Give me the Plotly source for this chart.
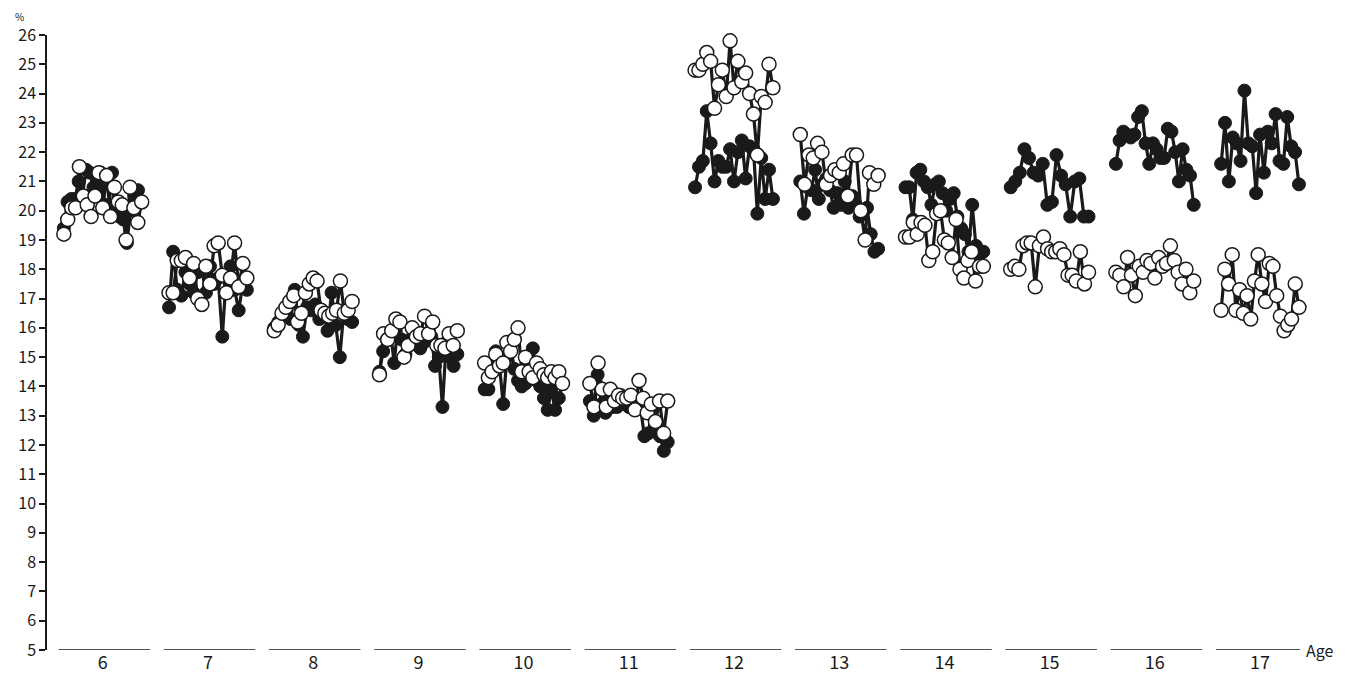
import numpy as np
import plotly.graph_objects as go

ages = [6, 7, 8, 9, 10, 11, 12, 13, 14, 15, 16, 17]
y_ticks = list(range(5, 27))

# filled (black) series per age group
black = {
    6: [19.4, 20.3, 20.4, 20.4, 21.0, 20.5, 21.4, 21.3, 20.8, 21.0, 21.3, 20.2, 20.0, 21.3, 20.0, 19.8, 19.7, 18.9, 20.0, 20.5, 20.7, 20.3],
    7: [16.7, 18.6, 17.3, 17.1, 17.9, 17.5, 17.2, 17.9, 18.0, 17.2, 18.1, 17.5, 17.7, 15.7, 17.8, 18.1, 17.3, 16.6, 17.5, 17.3],
    8: [16.0, 16.2, 16.5, 16.6, 16.3, 17.3, 16.1, 15.7, 16.7, 16.6, 16.8, 16.3, 16.5, 15.9, 17.2, 16.1, 15.0, 16.6, 16.3, 16.2],
    9: [14.5, 15.2, 15.6, 15.8, 14.8, 16.2, 15.6, 15.1, 15.5, 15.7, 15.6, 15.3, 15.5, 15.8, 15.7, 14.7, 15.0, 13.3, 15.5, 15.0, 14.7, 15.1],
    10: [13.9, 13.9, 14.6, 15.2, 14.7, 13.4, 15.0, 15.4, 14.6, 14.2, 14.0, 14.1, 14.6, 15.3, 14.2, 14.0, 13.6, 13.2, 13.9, 13.2, 13.6, 14.1],
    11: [13.5, 13.0, 14.4, 13.4, 13.1, 13.6, 13.3, 13.3, 13.7, 13.6, 13.3, 13.6, 13.4, 13.3, 12.3, 12.4, 13.2, 12.6, 12.3, 11.8, 12.1],
    12: [20.8, 21.5, 21.7, 23.4, 22.3, 21.0, 21.7, 21.5, 21.5, 22.1, 21.0, 22.0, 22.4, 21.1, 22.2, 22.1, 19.9, 21.8, 20.4, 21.4, 20.4],
    13: [21.0, 19.9, 20.8, 20.7, 21.4, 20.4, 20.9, 21.1, 20.7, 20.1, 20.6, 20.2, 21.0, 20.1, 20.5, 20.2, 19.8, 20.0, 20.1, 19.2, 18.6, 18.7],
    14: [20.8, 20.8, 19.7, 21.3, 21.4, 21.0, 20.8, 20.2, 20.9, 21.0, 20.6, 20.0, 20.4, 20.6, 19.8, 19.4, 19.2, 18.6, 20.2, 18.8, 18.5, 18.6],
    15: [20.8, 21.0, 21.3, 22.1, 21.8, 21.3, 21.2, 21.6, 20.2, 20.3, 21.9, 21.2, 20.9, 19.8, 21.0, 21.1, 19.8, 19.8],
    16: [21.6, 22.4, 22.7, 22.6, 22.5, 22.6, 23.2, 23.4, 22.3, 21.6, 22.3, 22.1, 21.8, 21.8, 22.8, 22.7, 22.0, 21.0, 22.1, 21.4, 21.2, 20.2],
    17: [21.6, 23.0, 21.0, 22.5, 22.3, 21.7, 24.1, 22.3, 22.2, 20.6, 22.6, 21.3, 22.7, 22.3, 23.3, 21.7, 21.6, 23.2, 22.2, 22.0, 20.9],
}

# open (white) series per age group
white = {
    6: [19.2, 19.7, 20.1, 20.1, 21.5, 20.5, 20.2, 19.8, 20.5, 21.3, 20.1, 21.2, 19.8, 20.8, 20.3, 20.2, 19.0, 20.8, 20.1, 19.6, 20.3],
    7: [17.2, 17.2, 18.3, 18.3, 18.4, 17.7, 18.2, 17.0, 16.8, 18.1, 17.5, 18.8, 18.9, 17.8, 17.2, 17.7, 18.9, 17.4, 18.2, 17.7],
    8: [15.9, 16.1, 16.5, 16.7, 16.9, 17.1, 16.2, 16.5, 17.2, 17.5, 17.7, 17.6, 16.6, 16.5, 16.4, 16.5, 16.6, 17.6, 16.5, 16.6, 16.9],
    9: [14.4, 15.8, 15.6, 15.9, 16.3, 16.2, 15.0, 15.4, 16.0, 15.7, 15.8, 16.4, 15.8, 16.2, 15.4, 15.4, 15.3, 15.8, 15.4, 15.9],
    10: [14.8, 14.3, 14.5, 15.1, 14.7, 14.8, 15.5, 15.2, 15.6, 16.0, 14.5, 15.0, 14.5, 14.3, 14.8, 14.6, 14.4, 14.3, 14.5, 14.3, 14.5, 14.1],
    11: [14.1, 13.3, 14.8, 13.9, 13.3, 13.9, 13.5, 13.7, 13.6, 13.6, 13.7, 13.2, 14.2, 13.6, 13.1, 13.4, 12.8, 13.5, 12.4, 13.5],
    12: [24.8, 24.8, 25.0, 25.4, 25.1, 23.5, 24.3, 24.8, 23.9, 25.8, 24.2, 25.1, 24.4, 24.7, 24.0, 23.3, 21.9, 23.9, 23.7, 25.0, 24.2],
    13: [22.6, 20.9, 21.9, 21.8, 22.3, 22.0, 20.9, 21.2, 21.4, 21.3, 21.6, 20.5, 21.9, 21.9, 20.0, 19.0, 21.3, 20.9, 21.2],
    14: [19.1, 19.1, 19.6, 19.2, 19.6, 19.5, 18.3, 18.6, 19.9, 20.0, 19.0, 18.9, 18.4, 19.7, 18.0, 17.7, 18.3, 18.6, 17.6, 18.1, 18.1],
    15: [18.0, 18.1, 18.0, 18.8, 18.9, 18.9, 17.4, 18.8, 19.1, 18.7, 18.6, 18.6, 18.7, 18.5, 17.8, 17.8, 17.6, 18.6, 17.5, 17.9],
    16: [17.9, 17.8, 17.4, 18.4, 17.8, 17.1, 18.1, 17.9, 18.3, 18.2, 17.7, 18.4, 18.1, 18.2, 18.8, 18.3, 17.9, 17.5, 18.0, 17.2, 17.6],
    17: [16.6, 18.0, 17.5, 18.5, 16.6, 17.3, 16.5, 17.1, 16.3, 17.6, 18.5, 17.5, 16.9, 18.2, 18.1, 17.1, 16.4, 15.9, 16.1, 16.3, 17.5, 16.7],
}

HALF = 0.37


def build(series):
    xs, ys = [], []
    for a in ages:
        vals = series[a]
        pos = np.linspace(a - HALF, a + HALF, len(vals))
        xs.extend(pos.tolist())
        ys.extend(vals)
        xs.append(None)
        ys.append(None)
    return xs, ys


fig = go.Figure()
bx, by = build(black)
fig.add_trace(go.Scatter(
    x=bx, y=by, mode="lines+markers", connectgaps=False, cliponaxis=False,
    line=dict(color="#1a1a1a", width=3.2),
    marker=dict(size=13, color="#1a1a1a", line=dict(color="#1a1a1a", width=1)),
    showlegend=False, hoverinfo="skip"))
wx, wy = build(white)
fig.add_trace(go.Scatter(
    x=wx, y=wy, mode="lines+markers", connectgaps=False, cliponaxis=False,
    line=dict(color="#1a1a1a", width=3.2),
    marker=dict(size=14, color="white", line=dict(color="#1a1a1a", width=1.5)),
    showlegend=False, hoverinfo="skip"))

X0 = 5.47
X1 = 17.38

# axis segments beneath each age group
for a in ages:
    left = max(a - 0.42, X0)
    fig.add_shape(type="line", xref="x", yref="y", x0=left, x1=a + 0.45,
                  y0=5, y1=5, line=dict(color="#1a1a1a", width=1.5))

fig.add_annotation(xref="paper", yref="y", x=1.0, y=5, xanchor="left", yanchor="middle",
                   text="Age", showarrow=False, xshift=4,
                   font=dict(size=16, color="#1a1a1a"))
fig.add_annotation(xref="paper", yref="paper", x=0, y=1, xanchor="right", yanchor="top",
                   text="%", showarrow=False, xshift=-22, yshift=27, borderpad=0,
                   font=dict(size=10, color="#1a1a1a"))

fig.update_layout(
    width=1336, height=666,
    margin=dict(l=39, r=44, t=27, b=24, autoexpand=False),
    paper_bgcolor="white", plot_bgcolor="white",
    font=dict(family="Noto Sans CJK JP, DejaVu Sans, sans-serif", color="#1a1a1a", size=18),
    xaxis=dict(range=[X0, X1], tickmode="array", tickvals=ages, ticktext=[str(a) for a in ages],
               showgrid=False, zeroline=False, showline=False, ticks="", ticklen=0,
               automargin=False, tickfont=dict(size=18)),
    yaxis=dict(range=[5, 26], tickmode="array", tickvals=y_ticks,
               ticktext=[str(v) for v in y_ticks], automargin=False,
               showgrid=False, zeroline=False, showline=True, linecolor="#1a1a1a", linewidth=1.5,
               ticks="outside", ticklen=6, tickwidth=1.5, tickcolor="#1a1a1a",
               tickfont=dict(size=16)),
)

fig.write_html("out.html")
